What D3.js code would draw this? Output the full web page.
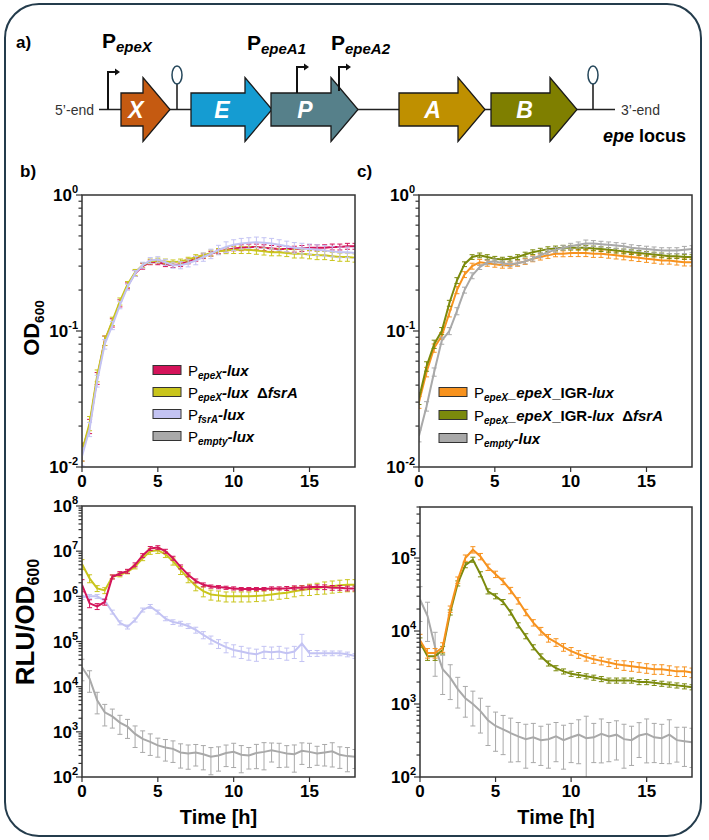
<!DOCTYPE html>
<html><head><meta charset="utf-8">
<script src="https://cdn.jsdelivr.net/npm/d3@7"></script>
<style>
body{margin:0;background:#fff;}
svg{font-family:"Liberation Sans",Arial,sans-serif;}
</style></head><body>
<svg id="fig" width="709" height="840"></svg>
<script>
// time points (h), one reading every half hour
const times = d3.range(0, 18.01, 0.5);
const xTicks = [0, 5, 10, 15];

// ── OD600, panel b ──
const odEpeX      = [.013,.02,.045,.085,.115,.16,.215,.265,.3,.32,.32,.31,.305,.31,.325,.34,.355,.37,.385,.395,.405,.41,.415,.415,.41,.405,.40,.40,.40,.405,.41,.41,.41,.415,.415,.42,.42];
const odEpeXErr   = [.15,.12,.10,.08,.07,.06,.05,.05,.05,.04,.04,.04,.04,.04,.04,.04,.04,.04,.04,.04,.04,.05,.05,.05,.05,.05,.05,.05,.05,.05,.05,.05,.05,.05,.05,.05,.05];
const odEpeXFsrA    = [.013,.021,.047,.085,.118,.165,.22,.27,.305,.325,.33,.325,.32,.325,.335,.35,.36,.375,.385,.39,.395,.395,.395,.39,.385,.38,.38,.375,.37,.37,.365,.36,.36,.355,.35,.35,.345];
const odEpeXFsrAErr = [.15,.12,.10,.08,.07,.06,.05,.05,.04,.04,.04,.04,.04,.04,.04,.04,.04,.05,.05,.05,.06,.06,.06,.06,.06,.06,.06,.06,.07,.07,.07,.07,.07,.07,.07,.07,.07];
const odFsrA      = [.012,.019,.043,.08,.11,.155,.21,.265,.305,.33,.335,.32,.305,.305,.315,.33,.35,.37,.395,.415,.43,.44,.445,.45,.445,.44,.43,.42,.41,.405,.40,.395,.39,.385,.38,.38,.375];
const odFsrAErr   = [.15,.12,.10,.08,.07,.06,.05,.05,.05,.05,.05,.05,.05,.06,.06,.07,.07,.08,.08,.09,.09,.09,.09,.09,.09,.09,.09,.09,.09,.09,.09,.09,.09,.09,.09,.09,.09];

// ── OD600, panel c ──
const odIgr       = [.030,.05,.075,.092,.135,.2,.26,.30,.32,.315,.31,.305,.305,.315,.325,.34,.35,.36,.37,.37,.375,.375,.375,.37,.37,.365,.36,.355,.35,.345,.34,.335,.33,.33,.325,.32,.32];
const odIgrErr    = [.10,.08,.07,.06,.06,.06,.05,.05,.05,.05,.05,.05,.05,.05,.05,.05,.05,.05,.05,.05,.06,.06,.06,.06,.06,.06,.06,.06,.06,.06,.06,.06,.06,.06,.06,.06,.06];
const odIgrFsrA   = [.032,.055,.08,.10,.16,.235,.31,.35,.36,.35,.34,.335,.34,.35,.365,.38,.39,.40,.405,.41,.41,.41,.41,.405,.40,.395,.39,.385,.38,.375,.37,.365,.36,.355,.355,.35,.35];
const odIgrFsrAErr= [.10,.08,.07,.06,.05,.05,.04,.04,.04,.04,.04,.04,.04,.04,.04,.04,.04,.04,.04,.04,.04,.04,.04,.04,.04,.04,.04,.04,.04,.04,.04,.04,.04,.04,.04,.04,.04];
const odEmpty     = [.017,.028,.05,.085,.10,.14,.20,.255,.295,.32,.325,.315,.31,.315,.325,.34,.36,.38,.395,.41,.42,.43,.44,.44,.435,.43,.425,.42,.41,.405,.40,.395,.39,.39,.39,.395,.40];
const odEmptyErr  = [.10,.08,.07,.06,.06,.06,.05,.05,.04,.04,.04,.04,.04,.04,.04,.04,.04,.04,.04,.04,.05,.05,.06,.05,.05,.05,.05,.05,.05,.05,.05,.05,.05,.05,.05,.06,.06];

// ── RLU/OD600, panel b ──
const rluEpeX      = [1.8e6,7e5,6e5,7.5e5,2.7e6,3.2e6,3.6e6,5e6,8e6,1.15e7,1.2e7,1e7,7e6,4.5e6,3e6,2.2e6,1.8e6,1.65e6,1.6e6,1.55e6,1.5e6,1.45e6,1.45e6,1.45e6,1.45e6,1.5e6,1.5e6,1.5e6,1.55e6,1.55e6,1.6e6,1.6e6,1.6e6,1.55e6,1.55e6,1.5e6,1.5e6];
const rluEpeXErr   = [.3,.2,.15,.15,.1,.1,.1,.1,.1,.1,.1,.1,.1,.1,.1,.1,.1,.08,.08,.08,.08,.08,.08,.08,.08,.08,.08,.1,.1,.1,.1,.12,.12,.12,.12,.12,.12];
const rluEpeXFsrA    = [5.2e6,2.5e6,1.5e6,1.35e6,2.7e6,3e6,3.5e6,4.5e6,7e6,1e7,1.05e7,8.5e6,6e6,3.8e6,2.5e6,1.7e6,1.3e6,1.1e6,1.05e6,1e6,1e6,1e6,1e6,1.02e6,1.05e6,1.1e6,1.15e6,1.2e6,1.3e6,1.38e6,1.45e6,1.52e6,1.6e6,1.68e6,1.75e6,1.8e6,1.8e6];
const rluEpeXFsrAErr = [.25,.2,.15,.15,.1,.1,.1,.1,.12,.15,.15,.15,.18,.2,.2,.22,.25,.25,.25,.25,.25,.25,.25,.25,.25,.25,.25,.25,.25,.25,.28,.28,.3,.3,.3,.3,.3];
const rluFsrA      = [9.5e5,1e6,1e6,8e5,4.5e5,2.6e5,2.1e5,3e5,5e5,6e5,4.5e5,3.2e5,2.7e5,2.5e5,2.2e5,1.8e5,1.4e5,1.1e5,9e4,7.5e4,6.5e4,6e4,5.5e4,5.2e4,6e4,5.8e4,6e4,5.5e4,6e4,9e4,5.5e4,5.5e4,5.5e4,5.5e4,5.5e4,5.2e4,4.8e4];
const rluFsrAErr   = [.1,.1,.1,.1,.1,.1,.1,.1,.1,.1,.1,.1,.12,.12,.12,.15,.18,.2,.22,.25,.3,.3,.3,.3,.3,.3,.3,.3,.3,.6,.15,.15,.12,.12,.12,.12,.12];
const rluEmpty     = [2.7e4,1.5e4,5e3,2.7e3,2.2e3,1.6e3,1.3e3,900,700,600,500,450,420,350,330,350,320,280,300,340,360,310,300,340,360,390,360,330,320,380,360,330,350,370,310,290,280];
const rluEmptyErr  = [.5,.5,.5,.5,.45,.45,.45,.5,.5,.5,.45,.5,.5,.55,.55,.5,.55,.6,.55,.5,.55,.6,.5,.55,.6,.45,.55,.5,.6,.5,.55,.45,.5,.55,.5,.55,.45];

// ── RLU/OD600, panel c ──
const rluIgr       = [7.5e3,5e3,5e3,6e3,2e4,5e4,1e5,1.3e5,1.05e5,7.5e4,6e4,4.8e4,3.6e4,2.6e4,1.8e4,1.3e4,1e4,8e3,7e3,6e3,5.3e3,4.8e3,4.4e3,4.1e3,3.9e3,3.7e3,3.5e3,3.4e3,3.3e3,3.2e3,3.1e3,3e3,3e3,2.9e3,2.8e3,2.8e3,2.7e3];
const rluIgrErr    = [.2,.15,.15,.15,.1,.1,.1,.1,.1,.1,.1,.1,.1,.1,.1,.1,.12,.12,.12,.12,.12,.12,.12,.12,.12,.12,.12,.15,.15,.15,.15,.15,.15,.15,.15,.15,.15];
const rluIgrFsrA   = [7e3,4.5e3,4.5e3,5.5e3,1.8e4,4.5e4,8e4,9.5e4,6e4,3.5e4,3e4,2.5e4,1.8e4,1.2e4,8.5e3,6e3,4.5e3,3.6e3,3.1e3,2.8e3,2.6e3,2.5e3,2.4e3,2.3e3,2.2e3,2.1e3,2.1e3,2.1e3,2.1e3,2e3,2e3,1.95e3,1.9e3,1.85e3,1.8e3,1.75e3,1.7e3];
const rluIgrFsrAErr= [.15,.12,.12,.12,.08,.08,.08,.08,.08,.08,.08,.08,.08,.08,.08,.08,.08,.08,.08,.08,.08,.08,.08,.08,.08,.08,.08,.08,.08,.08,.08,.08,.08,.08,.08,.08,.08];
const rluEmpty2    = [2.7e4,1.6e4,6e3,3e3,2.3e3,1.6e3,1.2e3,1e3,800,600,500,450,400,360,330,350,320,330,360,320,350,380,340,350,390,360,380,330,320,370,390,350,340,380,320,310,300];
const rluEmpty2Err = [.5,.55,.6,.55,.5,.45,.45,.5,.5,.55,.55,.55,.6,.55,.6,.55,.55,.6,.55,.6,.55,.6,1.0,.55,.6,.55,.55,.6,.55,.5,.6,.55,.55,.6,.5,.55,.55];

const C = {
  epeX: "#d4145a", epeXFsrA: "#c9c51c", fsrA: "#c3c3f3", empty: "#a9a9a9",
  igr: "#f7921e", igrFsrA: "#7b8a0c"
};

const svg = d3.select("#fig");

/* ── frame ─────────────────────────────────────────── */
svg.append("rect")
  .attr("x", 5).attr("y", 4).attr("width", 696).attr("height", 832)
  .attr("rx", 34).attr("fill", "none")
  .attr("stroke", "#243c4c").attr("stroke-width", 2);

function panelLetter(x, y, t) {
  svg.append("text").attr("x", x).attr("y", y)
    .attr("font-size", 17).attr("font-weight", "bold").text(t);
}
panelLetter(16, 48, "a)");
panelLetter(20, 177, "b)");
panelLetter(357, 177, "c)");

/* ── a) gene locus ─────────────────────────────────── */
const geneNames  = ["X", "E", "P", "A", "B"];
const geneColors = ["#c55a11", "#159cd2", "#56808a", "#bf9000", "#7f7f00"];
const geneStart  = [121, 191, 271, 399, 491];
const geneTip    = [170, 272, 358, 485, 577];
const midY = 109.5;

const locus = svg.append("g");
locus.append("line").attr("x1", 99).attr("x2", 615).attr("y1", midY).attr("y2", midY)
  .attr("stroke", "#222").attr("stroke-width", 1.6);

geneNames.forEach((n, i) => {
  const x0 = geneStart[i], x2 = geneTip[i], x1 = x2 - 27;
  const pts = [[x0, midY - 16.5], [x1, midY - 16.5], [x1, midY - 32], [x2, midY],
               [x1, midY + 32], [x1, midY + 16.5], [x0, midY + 16.5]];
  locus.append("path").attr("d", "M" + pts.join("L") + "Z")
    .attr("fill", geneColors[i]).attr("stroke", "#1a1a1a").attr("stroke-width", 1.3);
  locus.append("text").attr("x", (x0 + x1) / 2 + 4).attr("y", midY + 8)
    .attr("text-anchor", "middle").attr("fill", "#fff")
    .attr("font-size", 23).attr("font-weight", "bold").attr("font-style", "italic").text(n);
});

// terminators
[177, 593].forEach(tx => {
  locus.append("line").attr("x1", tx).attr("x2", tx).attr("y1", midY).attr("y2", 84)
    .attr("stroke", "#222").attr("stroke-width", 1.6);
  locus.append("ellipse").attr("cx", tx).attr("cy", 75).attr("rx", 5).attr("ry", 9)
    .attr("fill", "#fff").attr("stroke", "#24465a").attr("stroke-width", 1.5);
});

// promoters
[[108, midY, 72], [297, 93, 67], [339, 91, 67]].forEach(([px, y0, y1]) => {
  locus.append("path").attr("d", `M${px},${y0}V${y1}H${px + 8}`)
    .attr("fill", "none").attr("stroke", "#111").attr("stroke-width", 2);
  locus.append("path").attr("d", `M${px + 7},${y1 - 3.5}L${px + 12},${y1}L${px + 7},${y1 + 3.5}Z`)
    .attr("fill", "#111");
});

function promoterLabel(x, y, sub) {
  const t = svg.append("text").attr("x", x).attr("y", y).attr("font-weight", "bold");
  t.append("tspan").attr("font-size", 21).text("P");
  t.append("tspan").attr("font-size", 15).attr("font-style", "italic").attr("dy", 4).text(sub);
}
promoterLabel(102, 48, "epeX");
promoterLabel(247, 50, "epeA1");
promoterLabel(331, 50, "epeA2");

svg.append("text").attr("x", 94).attr("y", midY + 5).attr("text-anchor", "end")
  .attr("font-size", 14).attr("fill", "#333").text("5’-end");
svg.append("text").attr("x", 621).attr("y", midY + 5)
  .attr("font-size", 14).attr("fill", "#333").text("3’-end");
const epe = svg.append("text").attr("x", 603).attr("y", 142)
  .attr("font-size", 18).attr("font-weight", "bold");
epe.append("tspan").attr("font-style", "italic").text("epe");
epe.append("tspan").text(" locus");

/* ── plotting panels ───────────────────────────────── */
function drawPanel(p) {
  const x = d3.scaleLinear().domain([0, 18]).range([p.left, p.right]);
  const y = d3.scaleLog().domain(p.yDomain).range([p.bottom, p.top]);
  const g = svg.append("g");
  const clipId = "clip" + p.id;
  g.append("clipPath").attr("id", clipId).append("rect")
    .attr("x", p.left).attr("y", p.top)
    .attr("width", p.right - p.left).attr("height", p.bottom - p.top);
  const data = g.append("g").attr("clip-path", `url(#${clipId})`);

  p.series.forEach(s => {
    const pts = times.map((t, i) => ({ t, v: s.values[i], e: s.errors[i] * s.values[i] }));
    const eb = data.append("g").attr("stroke", s.color).attr("stroke-width", 1);
    pts.forEach(d => {
      const xx = x(d.t);
      const hi = y(Math.min(d.v + d.e, p.yDomain[1] * 2));
      const lo = d.v - d.e > 0 ? y(d.v - d.e) : p.bottom + 2;
      eb.append("line").attr("x1", xx).attr("x2", xx).attr("y1", hi).attr("y2", lo);
      eb.append("line").attr("x1", xx - 2.5).attr("x2", xx + 2.5).attr("y1", hi).attr("y2", hi);
      eb.append("line").attr("x1", xx - 2.5).attr("x2", xx + 2.5).attr("y1", lo).attr("y2", lo);
    });
    data.append("path").datum(pts)
      .attr("fill", "none").attr("stroke", s.color).attr("stroke-width", 2)
      .attr("d", d3.line().x(d => x(d.t)).y(d => y(d.v)));
  });

  // frame
  g.append("rect").attr("x", p.left).attr("y", p.top)
    .attr("width", p.right - p.left).attr("height", p.bottom - p.top)
    .attr("fill", "none").attr("stroke", "#333").attr("stroke-width", 1.5);

  // y ticks (log)
  const [lo, hi] = p.yDomain;
  const e0 = Math.floor(Math.log10(lo)), e1 = Math.ceil(Math.log10(hi));
  for (let e = e0; e <= e1; e++) {
    for (let k = 1; k <= 9; k++) {
      const v = k * Math.pow(10, e);
      if (v < lo * 0.999 || v > hi * 1.001) continue;
      const yy = y(v);
      g.append("line").attr("x1", p.left).attr("x2", p.left - (k === 1 ? 6 : 3.5))
        .attr("y1", yy).attr("y2", yy).attr("stroke", "#333").attr("stroke-width", 1.2);
      if (k === 1) {
        const t = g.append("text").attr("x", p.left - 4).attr("y", yy + 6)
          .attr("text-anchor", "end").attr("font-weight", "bold").attr("font-size", 17);
        t.append("tspan").text("10");
        t.append("tspan").attr("font-size", 11).attr("dy", -8).text(e);
      }
    }
  }
  // x ticks
  xTicks.forEach(v => {
    g.append("line").attr("x1", x(v)).attr("x2", x(v)).attr("y1", p.bottom).attr("y2", p.bottom + 5)
      .attr("stroke", "#333").attr("stroke-width", 1.2);
    g.append("text").attr("x", x(v)).attr("y", p.bottom + 20).attr("text-anchor", "middle")
      .attr("font-weight", "bold").attr("font-size", 17).text(v);
  });
  if (p.xLabel) {
    g.append("text").attr("x", (p.left + p.right) / 2).attr("y", p.bottom + 47)
      .attr("text-anchor", "middle").attr("font-weight", "bold").attr("font-size", 20).text("Time [h]");
  }
}

drawPanel({ id: "bt", left: 82, right: 355, top: 195, bottom: 467, yDomain: [1e-2, 1],
  series: [
    { values: odEpeX, errors: odEpeXErr, color: C.epeX },
    { values: odEpeXFsrA, errors: odEpeXFsrAErr, color: C.epeXFsrA },
    { values: odFsrA, errors: odFsrAErr, color: C.fsrA }
  ] });
drawPanel({ id: "ct", left: 419, right: 692, top: 195, bottom: 467, yDomain: [1e-2, 1],
  series: [
    { values: odIgr, errors: odIgrErr, color: C.igr },
    { values: odIgrFsrA, errors: odIgrFsrAErr, color: C.igrFsrA },
    { values: odEmpty, errors: odEmptyErr, color: C.empty }
  ] });
drawPanel({ id: "bb", left: 82, right: 355, top: 506, bottom: 777, yDomain: [1e2, 1e8], xLabel: true,
  series: [
    { values: rluEmpty, errors: rluEmptyErr, color: C.empty },
    { values: rluFsrA, errors: rluFsrAErr, color: C.fsrA },
    { values: rluEpeXFsrA, errors: rluEpeXFsrAErr, color: C.epeXFsrA },
    { values: rluEpeX, errors: rluEpeXErr, color: C.epeX }
  ] });
drawPanel({ id: "cb", left: 420, right: 692, top: 507, bottom: 777, yDomain: [1e2, 5e5], xLabel: true,
  series: [
    { values: rluEmpty2, errors: rluEmpty2Err, color: C.empty },
    { values: rluIgrFsrA, errors: rluIgrFsrAErr, color: C.igrFsrA },
    { values: rluIgr, errors: rluIgrErr, color: C.igr }
  ] });

// y axis titles
function yTitle(x, y, main, size) {
  const t = svg.append("text").attr("transform", `translate(${x},${y}) rotate(-90)`)
    .attr("text-anchor", "middle").attr("font-weight", "bold").attr("font-size", size);
  t.append("tspan").text(main);
  t.append("tspan").attr("font-size", size * 0.62).attr("dy", 5).text("600");
}
yTitle(39, 328, "OD", 22);
yTitle(34, 622, "RLU/OD", 26);

/* ── legends ───────────────────────────────────────── */
// parts: [text, style] with style n = normal, s = subscript, i = bold italic, b = bold
const legendB = [
  { color: C.epeX,     parts: [["P", "n"], ["epeX", "s"], ["-lux", "i"]] },
  { color: C.epeXFsrA, parts: [["P", "n"], ["epeX", "s"], ["-lux", "i"], ["  Δ", "b"], ["fsrA", "i"]] },
  { color: C.fsrA,     parts: [["P", "n"], ["fsrA", "s"], ["-lux", "i"]] },
  { color: C.empty,    parts: [["P", "n"], ["empty", "s"], ["-lux", "i"]] }
];
const legendC = [
  { color: C.igr,     parts: [["P", "n"], ["epeX", "s"], ["_epeX", "i"], ["_IGR-", "b"], ["lux", "i"]] },
  { color: C.igrFsrA, parts: [["P", "n"], ["epeX", "s"], ["_epeX", "i"], ["_IGR-", "b"], ["lux", "i"], ["  Δ", "b"], ["fsrA", "i"]] },
  { color: C.empty,   parts: [["P", "n"], ["empty", "s"], ["-lux", "i"]] }
];

function drawLegend(items, sx, y0, step) {
  items.forEach((it, i) => {
    const cy = y0 + i * step;
    svg.append("rect").attr("x", sx).attr("y", cy - 4.5).attr("width", 28).attr("height", 9)
      .attr("fill", it.color).attr("stroke", "#333").attr("stroke-width", 1);
    const t = svg.append("text").attr("x", sx + 35).attr("y", cy + 6).attr("font-size", 15)
      .attr("xml:space", "preserve").style("white-space", "pre");
    let sub = false;
    it.parts.forEach(([txt, st]) => {
      const ts = t.append("tspan").text(txt);
      if (st === "s") {
        ts.attr("font-size", 10).attr("font-weight", "bold").attr("font-style", "italic").attr("dy", 3);
        sub = true;
      } else {
        if (sub) { ts.attr("dy", -3); sub = false; }
        if (st === "i") ts.attr("font-weight", "bold").attr("font-style", "italic");
        if (st === "b") ts.attr("font-weight", "bold");
      }
    });
  });
}
drawLegend(legendB, 153, 370, 22);
drawLegend(legendC, 439, 392, 23);
</script>
</body></html>
